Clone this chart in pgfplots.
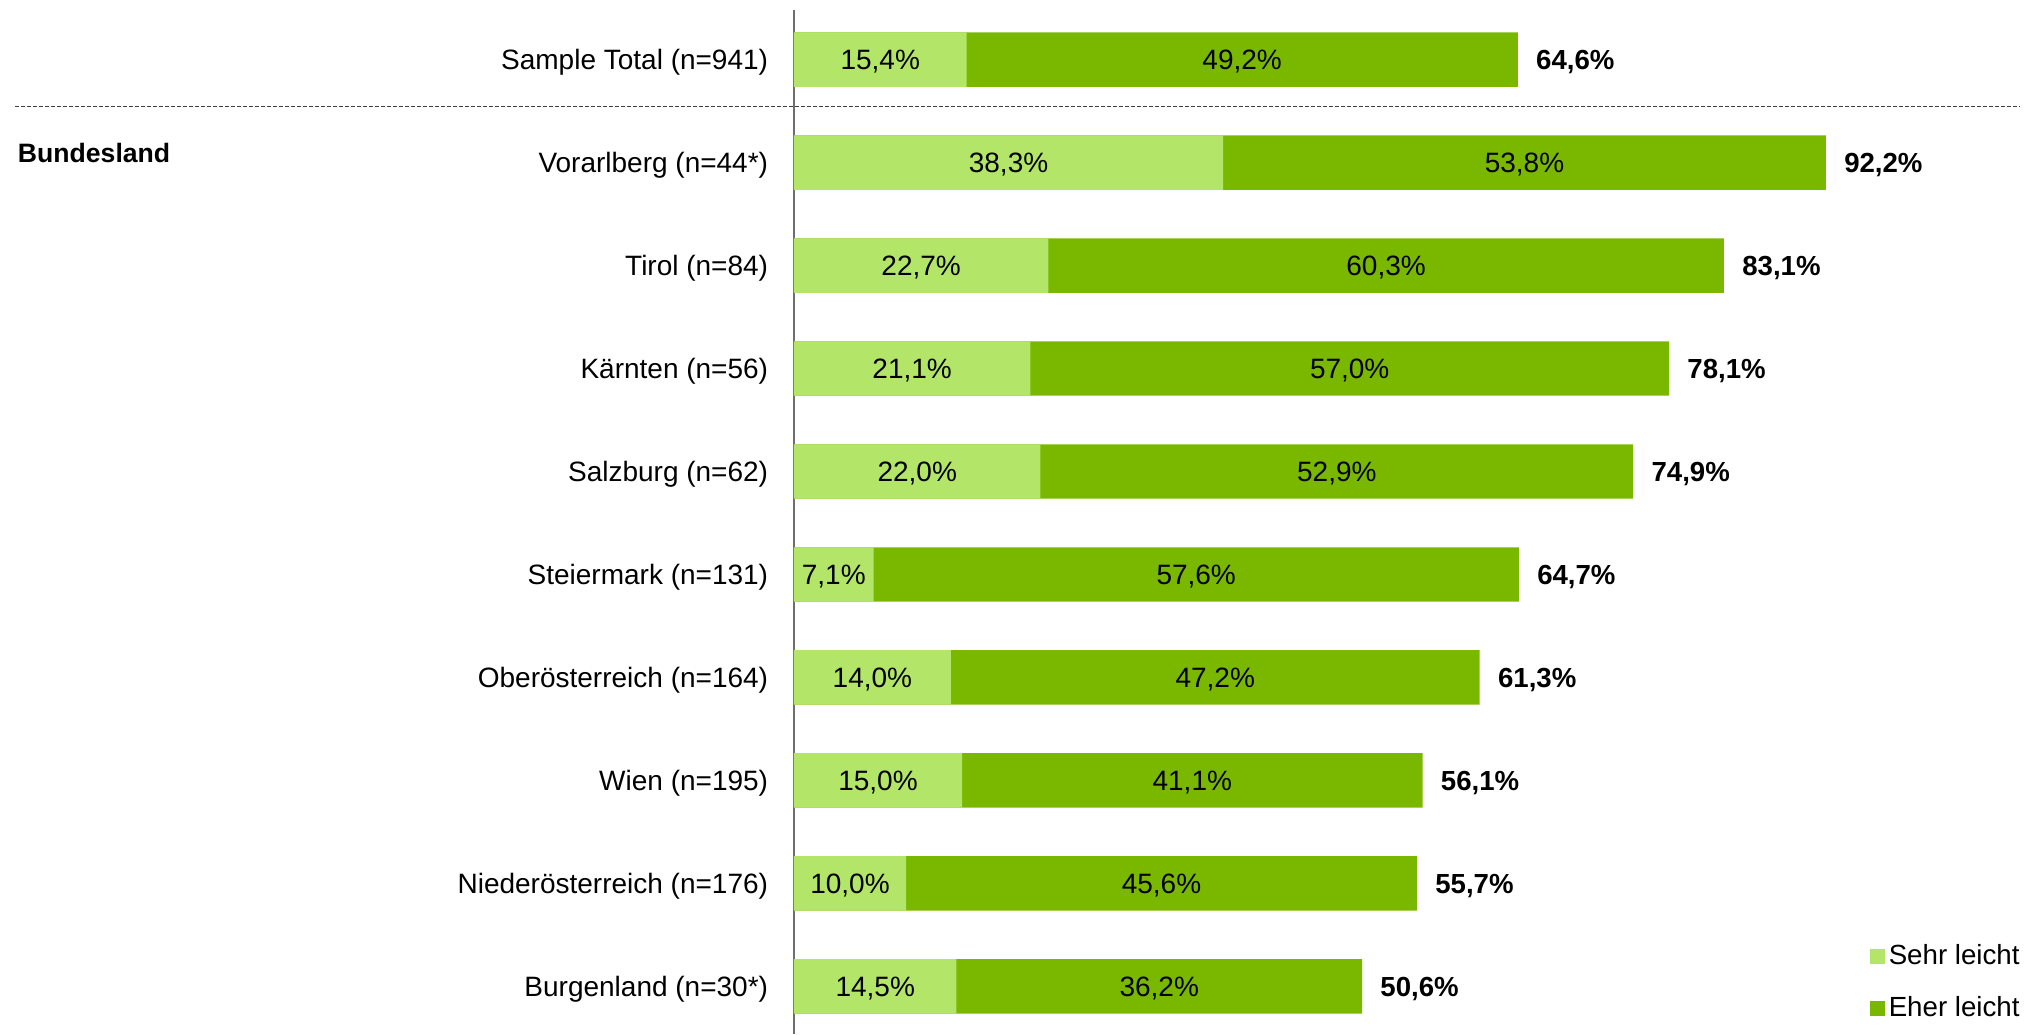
\documentclass[border=0pt]{standalone}
\usepackage{fontspec}
\setmainfont{Liberation Sans}
\usepackage{pgfplots}
\usepackage{pgfplotstable}
\pgfplotsset{compat=1.18}
\definecolor{lightg}{RGB}{178,229,104}
\definecolor{darkg}{RGB}{122,184,0}
\definecolor{axgray}{RGB}{110,110,110}
\newcommand\lab{\fontsize{14}{16.5}\selectfont}
\newcommand\vlab{\fontsize{14}{16.5}\selectfont}
\newcommand\tlab{\fontsize{13.8}{16}\selectfont\bfseries}
\pgfkeys{/pgf/number format/.cd, use comma, fixed, fixed zerofill, precision=1, assume math mode=true}
\pgfplotstableread{
y sehr eher total
9 15.4 49.2 64.6
8 38.3 53.8 92.2
7 22.7 60.3 83.1
6 21.1 57.0 78.1
5 22.0 52.9 74.9
4 7.1 57.6 64.7
3 14.0 47.2 61.3
2 15.0 41.1 56.1
1 10.0 45.6 55.7
0 14.5 36.2 50.6
}\data
\begin{document}
\begin{tikzpicture}
\begin{axis}[name=ax, scale only axis, width=619pt, height=512pt,
  xmin=0, xmax=110.5, ymin=-0.463, ymax=9.482,
  axis x line=none, axis y line*=left,
  y axis line style={draw=axgray, line width=0.7pt},
  ytick={0,...,9},
  yticklabels={Burgenland (n=30*), Niederösterreich (n=176), Wien (n=195), Oberösterreich (n=164), Steiermark (n=131), Salzburg (n=62), Kärnten (n=56), Tirol (n=84), Vorarlberg (n=44*), Sample Total (n=941)},
  major tick length=0pt,
  yticklabel style={font=\lab, inner sep=0pt, anchor=base east, xshift=-12.75pt, yshift=-5pt},
  clip=false,
  legend style={at={(axis cs:96,0.449)}, anchor=north west, draw=none, fill=none, font=\fontsize{13.85}{15.5}\selectfont, row sep=10.5pt, inner sep=0pt, legend cell align=left},
]
\addplot[xbar, bar width=27.2pt, bar shift=0pt, fill=darkg, draw=none, forget plot] table[x expr=\thisrow{sehr}+\thisrow{eher}, y=y] {\data};
\addplot[xbar, bar width=27.2pt, bar shift=0pt, fill=lightg, draw=none, forget plot] table[x=sehr, y=y] {\data};
\addplot[draw=none, mark=none, forget plot, point meta=explicit, nodes near coords={\pgfmathprintnumber{\pgfplotspointmeta}\%}, nodes near coords style={anchor=base, inner sep=0pt, yshift=-5pt, font=\vlab}] table[x expr=\thisrow{sehr}/2, y=y, meta=sehr] {\data};
\addplot[draw=none, mark=none, forget plot, point meta=explicit, nodes near coords={\pgfmathprintnumber{\pgfplotspointmeta}\%}, nodes near coords style={anchor=base, inner sep=0pt, yshift=-5pt, font=\vlab}] table[x expr=\thisrow{sehr}+\thisrow{eher}/2, y=y, meta=eher] {\data};
\addplot[draw=none, mark=none, forget plot, point meta=explicit, nodes near coords={\pgfmathprintnumber{\pgfplotspointmeta}\%}, nodes near coords style={anchor=base west, inner sep=0pt, xshift=9pt, yshift=-4.9pt, font=\tlab}] table[x expr=\thisrow{sehr}+\thisrow{eher}, y=y, meta=total] {\data};
\addlegendimage{legend image code/.code={\fill[lightg] (0pt,-3.5pt) rectangle (7pt,3.5pt);}}
\addlegendentry{Sehr leicht}
\addlegendimage{legend image code/.code={\fill[darkg] (0pt,-3.5pt) rectangle (7pt,3.5pt);}}
\addlegendentry{Eher leicht}
\draw[dash pattern=on 2pt off 1pt, line width=0.5pt, black!75] (axis cs:-69.5,8.547) -- (axis cs:109.4,8.547);
\node[anchor=west, inner sep=0pt, font=\fontsize{13.3}{15}\selectfont\bfseries] at (axis cs:-69.3,8.093) {Bundesland};
\end{axis}
\path (ax.south west) ++(-397pt,0pt) rectangle ++(1016pt,517pt);
\end{tikzpicture}
\end{document}
